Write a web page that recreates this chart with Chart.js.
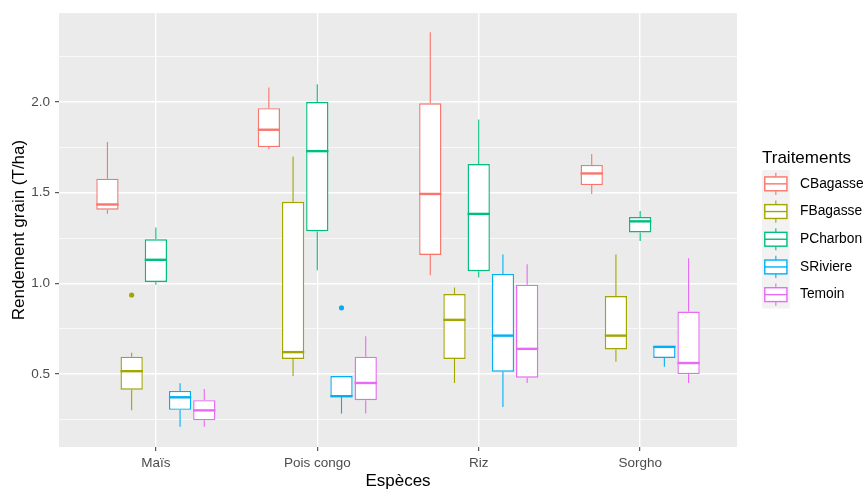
<!DOCTYPE html>
<html>
<head>
<meta charset="utf-8">
<script src="https://cdn.jsdelivr.net/npm/chart.js@4.4.1/dist/chart.umd.min.js"></script>
<style>
  html, body { margin: 0; padding: 0; background: #fff; }
</style>
</head>
<body>
<canvas id="chart" width="867" height="493"></canvas>
<script>
const especes = ['Maïs', 'Pois congo', 'Riz', 'Sorgho'];
const traitements = ['CBagasse', 'FBagasse', 'PCharbon', 'SRiviere', 'Temoin'];
const couleurs = ['#F8766D', '#A3A500', '#00BF7D', '#00B0F6', '#E76BF3'];

// [min, q1, mediane, q3, max] for each espece
const cBagasse = [[1.384, 1.406, 1.435, 1.577, 1.780], [1.740, 1.751, 1.847, 1.966, 2.080], [1.045, 1.157, 1.493, 1.993, 2.385], [1.493, 1.542, 1.606, 1.653, 1.713]];
const fBagasse = [[0.301, 0.414, 0.516, 0.596, 0.617], [0.490, 0.583, 0.621, 1.450, 1.700], [0.451, 0.583, 0.799, 0.941, 0.977], [0.568, 0.636, 0.712, 0.930, 1.159]];
const pCharbon = [[0.993, 1.008, 1.130, 1.243, 1.308], [1.072, 1.288, 1.729, 2.000, 2.098], [1.032, 1.067, 1.383, 1.658, 1.904], [1.233, 1.281, 1.342, 1.366, 1.399]];
const sRiviere = [[0.209, 0.303, 0.372, 0.407, 0.449], [0.282, 0.377, 0.378, 0.489, 0.489], [0.318, 0.513, 0.712, 1.052, 1.159], [0.541, 0.589, 0.650, 0.654, 0.654]];
const temoin   = [[0.209, 0.245, 0.300, 0.356, 0.418], [0.282, 0.356, 0.451, 0.596, 0.708], [0.451, 0.480, 0.639, 0.993, 1.106], [0.451, 0.500, 0.561, 0.845, 1.139]];

// outliers per espece
const fBagasseOut = [[0.936], [], [], []];
const sRiviereOut = [[], [0.865], [], []];

const series = [cBagasse, fBagasse, pCharbon, sRiviere, temoin];
const outliers = [[[], [], [], []], fBagasseOut, [[], [], [], []], sRiviereOut, [[], [], [], []]];

const yTicks = [0.25, 0.5, 0.75, 1.0, 1.25, 1.5, 1.75, 2.0, 2.25];
const yMajor = [0.5, 1.0, 1.5, 2.0];
const xTicks = [1, 2, 3, 4];

const FONT = '"Liberation Sans", Arial, sans-serif';
Chart.defaults.font.family = FONT;

const isMajor = v => yMajor.some(m => Math.abs(m - v) < 1e-6);

const boxPlugin = {
  id: 'boxplot',
  beforeDraw(chart) {
    const { ctx, chartArea: a } = chart;
    ctx.save();
    ctx.fillStyle = '#EBEBEB';
    ctx.fillRect(a.left, a.top, a.right - a.left, a.bottom - a.top);
    ctx.restore();
  },
  beforeDatasetsDraw(chart) {
    // whiskers, under the boxes
    const { ctx } = chart;
    const y = chart.scales.y;
    ctx.save();
    ctx.lineWidth = 1.1;
    series.forEach((s, k) => {
      const meta = chart.getDatasetMeta(k);
      ctx.strokeStyle = couleurs[k];
      meta.data.forEach((bar, i) => {
        const st = s[i];
        ctx.beginPath();
        ctx.moveTo(bar.x, y.getPixelForValue(st[3]));
        ctx.lineTo(bar.x, y.getPixelForValue(st[4]));
        ctx.moveTo(bar.x, y.getPixelForValue(st[1]));
        ctx.lineTo(bar.x, y.getPixelForValue(st[0]));
        ctx.stroke();
      });
    });
    ctx.restore();
  },
  afterDatasetsDraw(chart) {
    const { ctx } = chart;
    const y = chart.scales.y;
    ctx.save();
    series.forEach((s, k) => {
      const meta = chart.getDatasetMeta(k);
      meta.data.forEach((bar, i) => {
        const st = s[i];
        // median
        ctx.strokeStyle = couleurs[k];
        ctx.lineWidth = 2.4;
        const ym = y.getPixelForValue(st[2]);
        ctx.beginPath();
        ctx.moveTo(bar.x - bar.width / 2, ym);
        ctx.lineTo(bar.x + bar.width / 2, ym);
        ctx.stroke();
        // outliers
        ctx.fillStyle = couleurs[k];
        outliers[k][i].forEach(v => {
          ctx.beginPath();
          ctx.arc(bar.x, y.getPixelForValue(v), 2.6, 0, Math.PI * 2);
          ctx.fill();
        });
      });
    });
    ctx.restore();
  },
  afterDraw(chart) {
    // legend drawn like ggplot: title + boxplot keys
    const { ctx } = chart;
    const lx = 762, ly = 170, key = 27.7;
    ctx.save();
    ctx.fillStyle = '#000000';
    ctx.font = '17px ' + FONT;
    ctx.textBaseline = 'alphabetic';
    ctx.fillText('Traitements', lx, 162.5);
    ctx.fillStyle = '#F2F2F2';
    ctx.fillRect(lx, ly, key, key * traitements.length);
    ctx.font = '13.8px ' + FONT;
    traitements.forEach((t, k) => {
      const top = ly + key * k;
      const cx = lx + key / 2;
      ctx.strokeStyle = couleurs[k];
      ctx.lineWidth = 1.1;
      ctx.beginPath();
      ctx.moveTo(cx, top + key * 0.1);
      ctx.lineTo(cx, top + key * 0.25);
      ctx.moveTo(cx, top + key * 0.75);
      ctx.lineTo(cx, top + key * 0.9);
      ctx.stroke();
      ctx.fillStyle = '#FFFFFF';
      ctx.fillRect(lx + key * 0.1, top + key * 0.25, key * 0.8, key * 0.5);
      ctx.lineWidth = 1.4;
      ctx.strokeRect(lx + key * 0.1, top + key * 0.25, key * 0.8, key * 0.5);
      ctx.beginPath();
      ctx.moveTo(lx + key * 0.1, top + key / 2);
      ctx.lineTo(lx + key * 0.9, top + key / 2);
      ctx.stroke();
      ctx.fillStyle = '#000000';
      ctx.textBaseline = 'middle';
      ctx.fillText(t, 800, top + key / 2);
    });
    ctx.restore();
  }
};

new Chart(document.getElementById('chart'), {
  type: 'bar',
  data: {
    datasets: traitements.map((t, k) => ({
      label: t,
      data: series[k].map((s, i) => ({ x: xTicks[i], y: [s[1], s[3]] })),
      backgroundColor: '#FFFFFF',
      borderColor: couleurs[k],
      borderWidth: 1.4,
      borderSkipped: false,
      categoryPercentage: 0.75,
      barPercentage: 0.92
    }))
  },
  options: {
    responsive: false,
    animation: false,
    events: [],
    layout: { padding: { top: 8, right: 130, left: 0, bottom: 0 } },
    plugins: {
      legend: { display: false },
      tooltip: { enabled: false }
    },
    scales: {
      x: {
        type: 'linear',
        min: 0.4,
        max: 4.6,
        offset: false,
        afterBuildTicks: s => { s.ticks = xTicks.map(v => ({ value: v })); },
        afterFit: s => { s.height = 46; },
        border: { display: false },
        grid: { offset: false, color: '#FFFFFF', lineWidth: 1.4, tickColor: '#333333', tickLength: 4, tickWidth: 1 },
        ticks: {
          autoSkip: false,
          maxRotation: 0,
          padding: 4,
          color: '#4D4D4D',
          font: { size: 13.5 },
          callback: v => especes[v - 1]
        },
        title: { display: true, text: 'Espèces', color: '#000000', font: { size: 17 }, padding: { top: 0, bottom: 1 } }
      },
      y: {
        type: 'linear',
        min: 0.098,
        max: 2.49,
        afterBuildTicks: s => { s.ticks = yTicks.map(v => ({ value: v })); },
        afterFit: s => { s.width = 59; },
        border: { display: false },
        grid: {
          color: '#FFFFFF',
          lineWidth: c => (c.tick && isMajor(c.tick.value)) ? 1.4 : 0.7,
          tickColor: c => (c.tick && isMajor(c.tick.value)) ? '#333333' : 'rgba(0,0,0,0)',
          tickLength: 4,
          tickWidth: 1
        },
        ticks: {
          autoSkip: false,
          padding: 5,
          color: '#4D4D4D',
          font: { size: 13.5 },
          callback: v => isMajor(v) ? v.toFixed(1) : ''
        },
        title: { display: true, text: 'Rendement grain (T/ha)', color: '#000000', font: { size: 17 }, padding: { top: 9.5, bottom: 0 } }
      }
    }
  },
  plugins: [boxPlugin]
});
</script>
</body>
</html>
